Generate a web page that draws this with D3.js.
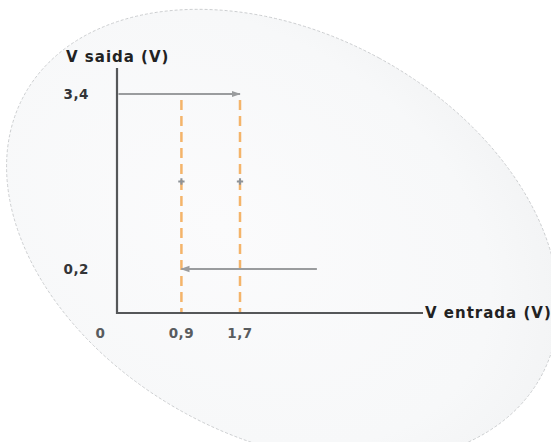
<!DOCTYPE html>
<html>
<head>
<meta charset="utf-8">
<script src="https://cdn.jsdelivr.net/npm/d3@7"></script>
<style>
  html, body { margin: 0; padding: 0; background: #ffffff; }
  svg { display: block; }
  text { font-family: "DejaVu Sans", Verdana, sans-serif; font-weight: bold; }
</style>
</head>
<body>
<div id="chart"></div>
<script>
// ---- data ----
const xTickValues = [0, 0.9, 1.7];
const xTickLabels = ["0", "0,9", "1,7"];
const yTickValues = [3.4, 0.2];
const yTickLabels = ["3,4", "0,2"];
const thresholds = [0.9, 1.7];            // dashed switching thresholds (V entrada)
const midLevel = 1.8;                      // marker level on the threshold lines
const arrowUp   = {x0: 0,    x1: 1.7, y: 3.4};   // rising transition
const arrowDown = {x0: 2.75, x1: 0.9, y: 0.2};   // falling transition
const xAxisTitle = "V entrada (V)";
const yAxisTitle = "V saida (V)";

// outline of the decorative background blob (screen pixels)
const blobEdge = [[40,67],[20,100],[12,137],[8,167],[10,200],[13,220],[20,247],[40,280],[67,307],[77,317],
  [133,15],[200,13],[274,20],[342,40],[425,83],[492,150],[528,200],
  [550,343],[540,383],[520,413],[490,433],[447,442],[150,403],[233,433]];

// ---- layout ----
const W = 551, H = 442;
const svg = d3.select("#chart").append("svg").attr("width", W).attr("height", H);
const defs = svg.append("defs");
const grad = defs.append("radialGradient").attr("id", "bg")
  .attr("cx", "45%").attr("cy", "40%").attr("r", "65%");
grad.append("stop").attr("offset", "0%").attr("stop-color", "#fbfbfc");
grad.append("stop").attr("offset", "75%").attr("stop-color", "#f7f8f9");
grad.append("stop").attr("offset", "100%").attr("stop-color", "#f2f3f4");

// least-squares ellipse through the traced outline: A x² + B xy + C y² + D x + E y = 1
(function drawBlob() {
  const ox = 280, oy = 230;
  const rows = blobEdge.map(([px, py]) => { const u = px - ox, v = py - oy; return [u*u, u*v, v*v, u, v]; });
  const N = 5, M = [];
  for (let i = 0; i < N; i++) {
    M.push(new Array(N + 1).fill(0));
    for (const r of rows) { for (let j = 0; j < N; j++) M[i][j] += r[i] * r[j]; M[i][N] += r[i]; }
  }
  for (let c = 0; c < N; c++) {
    let p = c; for (let r = c + 1; r < N; r++) if (Math.abs(M[r][c]) > Math.abs(M[p][c])) p = r;
    [M[c], M[p]] = [M[p], M[c]];
    for (let r = 0; r < N; r++) if (r !== c) {
      const f = M[r][c] / M[c][c];
      for (let k = c; k <= N; k++) M[r][k] -= f * M[c][k];
    }
  }
  const [A, B, C, D, E] = M.map((row, i) => row[N] / row[i]);
  const det = 4 * A * C - B * B;
  const cx = (B * E - 2 * C * D) / det, cy = (B * D - 2 * A * E) / det;
  const F0 = A*cx*cx + B*cx*cy + C*cy*cy + D*cx + E*cy - 1;
  const th = 0.5 * Math.atan2(B, A - C);
  const cs = Math.cos(th), sn = Math.sin(th);
  const l1 = A*cs*cs + B*sn*cs + C*sn*sn, l2 = A*sn*sn - B*sn*cs + C*cs*cs;
  svg.append("ellipse")
    .attr("transform", `translate(${cx + ox},${cy + oy}) rotate(${th * 180 / Math.PI})`)
    .attr("rx", Math.sqrt(-F0 / l1)).attr("ry", Math.sqrt(-F0 / l2))
    .attr("fill", "url(#bg)")
    .attr("stroke", "#c6c8ca").attr("stroke-width", 0.8)
    .attr("stroke-dasharray", "3,2");
})();

// scales
const x = d3.scaleLinear().domain([0, 1.7]).range([115.5, 240]);
const y = d3.scaleLinear().domain([0.2, 3.4]).range([269, 94]);
const axisY = 313, axisTop = 68, axisRight = 423;

// arrow marker
defs.append("marker").attr("id", "arr")
  .attr("viewBox", "0 0 10 10").attr("refX", 9).attr("refY", 5)
  .attr("markerWidth", 5).attr("markerHeight", 5).attr("orient", "auto")
  .append("path").attr("d", "M0,1.5 L10,5 L0,8.5 Z").attr("fill", "#9a9c9e");

// dashed threshold lines
svg.selectAll(".thr").data(thresholds).join("line")
  .attr("x1", d => x(d)).attr("x2", d => x(d))
  .attr("y1", y(3.4) + 6).attr("y2", axisY)
  .attr("stroke", "#f4b46a").attr("stroke-width", 2.5)
  .attr("stroke-dasharray", "10,6");

// markers on threshold lines
svg.selectAll(".mk").data(thresholds).join("path")
  .attr("transform", d => `translate(${x(d)},${y(midLevel)})`)
  .attr("d", d3.symbol(d3.symbolCross, 22))
  .attr("fill", "#8e9398");

// transition arrows
[arrowUp, arrowDown].forEach(a => {
  svg.append("line")
    .attr("x1", x(a.x0) + (a === arrowUp ? 3 : 0)).attr("x2", x(a.x1))
    .attr("y1", y(a.y)).attr("y2", y(a.y))
    .attr("stroke", "#9a9c9e").attr("stroke-width", 1.8)
    .attr("marker-end", "url(#arr)");
});

// axes lines
svg.append("line").attr("x1", x(0) + 1.5).attr("x2", x(0) + 1.5)
  .attr("y1", axisTop).attr("y2", axisY + 1)
  .attr("stroke", "#555759").attr("stroke-width", 2.2);
svg.append("line").attr("x1", x(0) + 0.5).attr("x2", axisRight)
  .attr("y1", axisY).attr("y2", axisY)
  .attr("stroke", "#555759").attr("stroke-width", 2.2);

// tick labels
svg.selectAll(".yt").data(yTickValues).join("text")
  .attr("x", 89).attr("y", d => y(d)).attr("dy", "0.35em")
  .attr("text-anchor", "end").attr("font-size", 13.5).attr("letter-spacing", 0.5)
  .attr("fill", "#333537")
  .text((d, i) => yTickLabels[i]);

svg.selectAll(".xt").data(xTickValues).join("text")
  .attr("x", (d, i) => d === 0 ? x(d) - 15 : x(d)).attr("y", 333).attr("dy", "0.35em")
  .attr("text-anchor", "middle").attr("font-size", 13.5).attr("letter-spacing", 0.5)
  .attr("fill", "#595c5f")
  .text((d, i) => xTickLabels[i]);

// axis titles
svg.append("text").attr("x", 66).attr("y", 62)
  .attr("font-size", 15).attr("letter-spacing", 1).attr("fill", "#222")
  .text(yAxisTitle);
svg.append("text").attr("x", 425).attr("y", axisY).attr("dy", "0.35em")
  .attr("font-size", 15).attr("letter-spacing", 1).attr("fill", "#222")
  .text(xAxisTitle);
</script>
</body>
</html>
